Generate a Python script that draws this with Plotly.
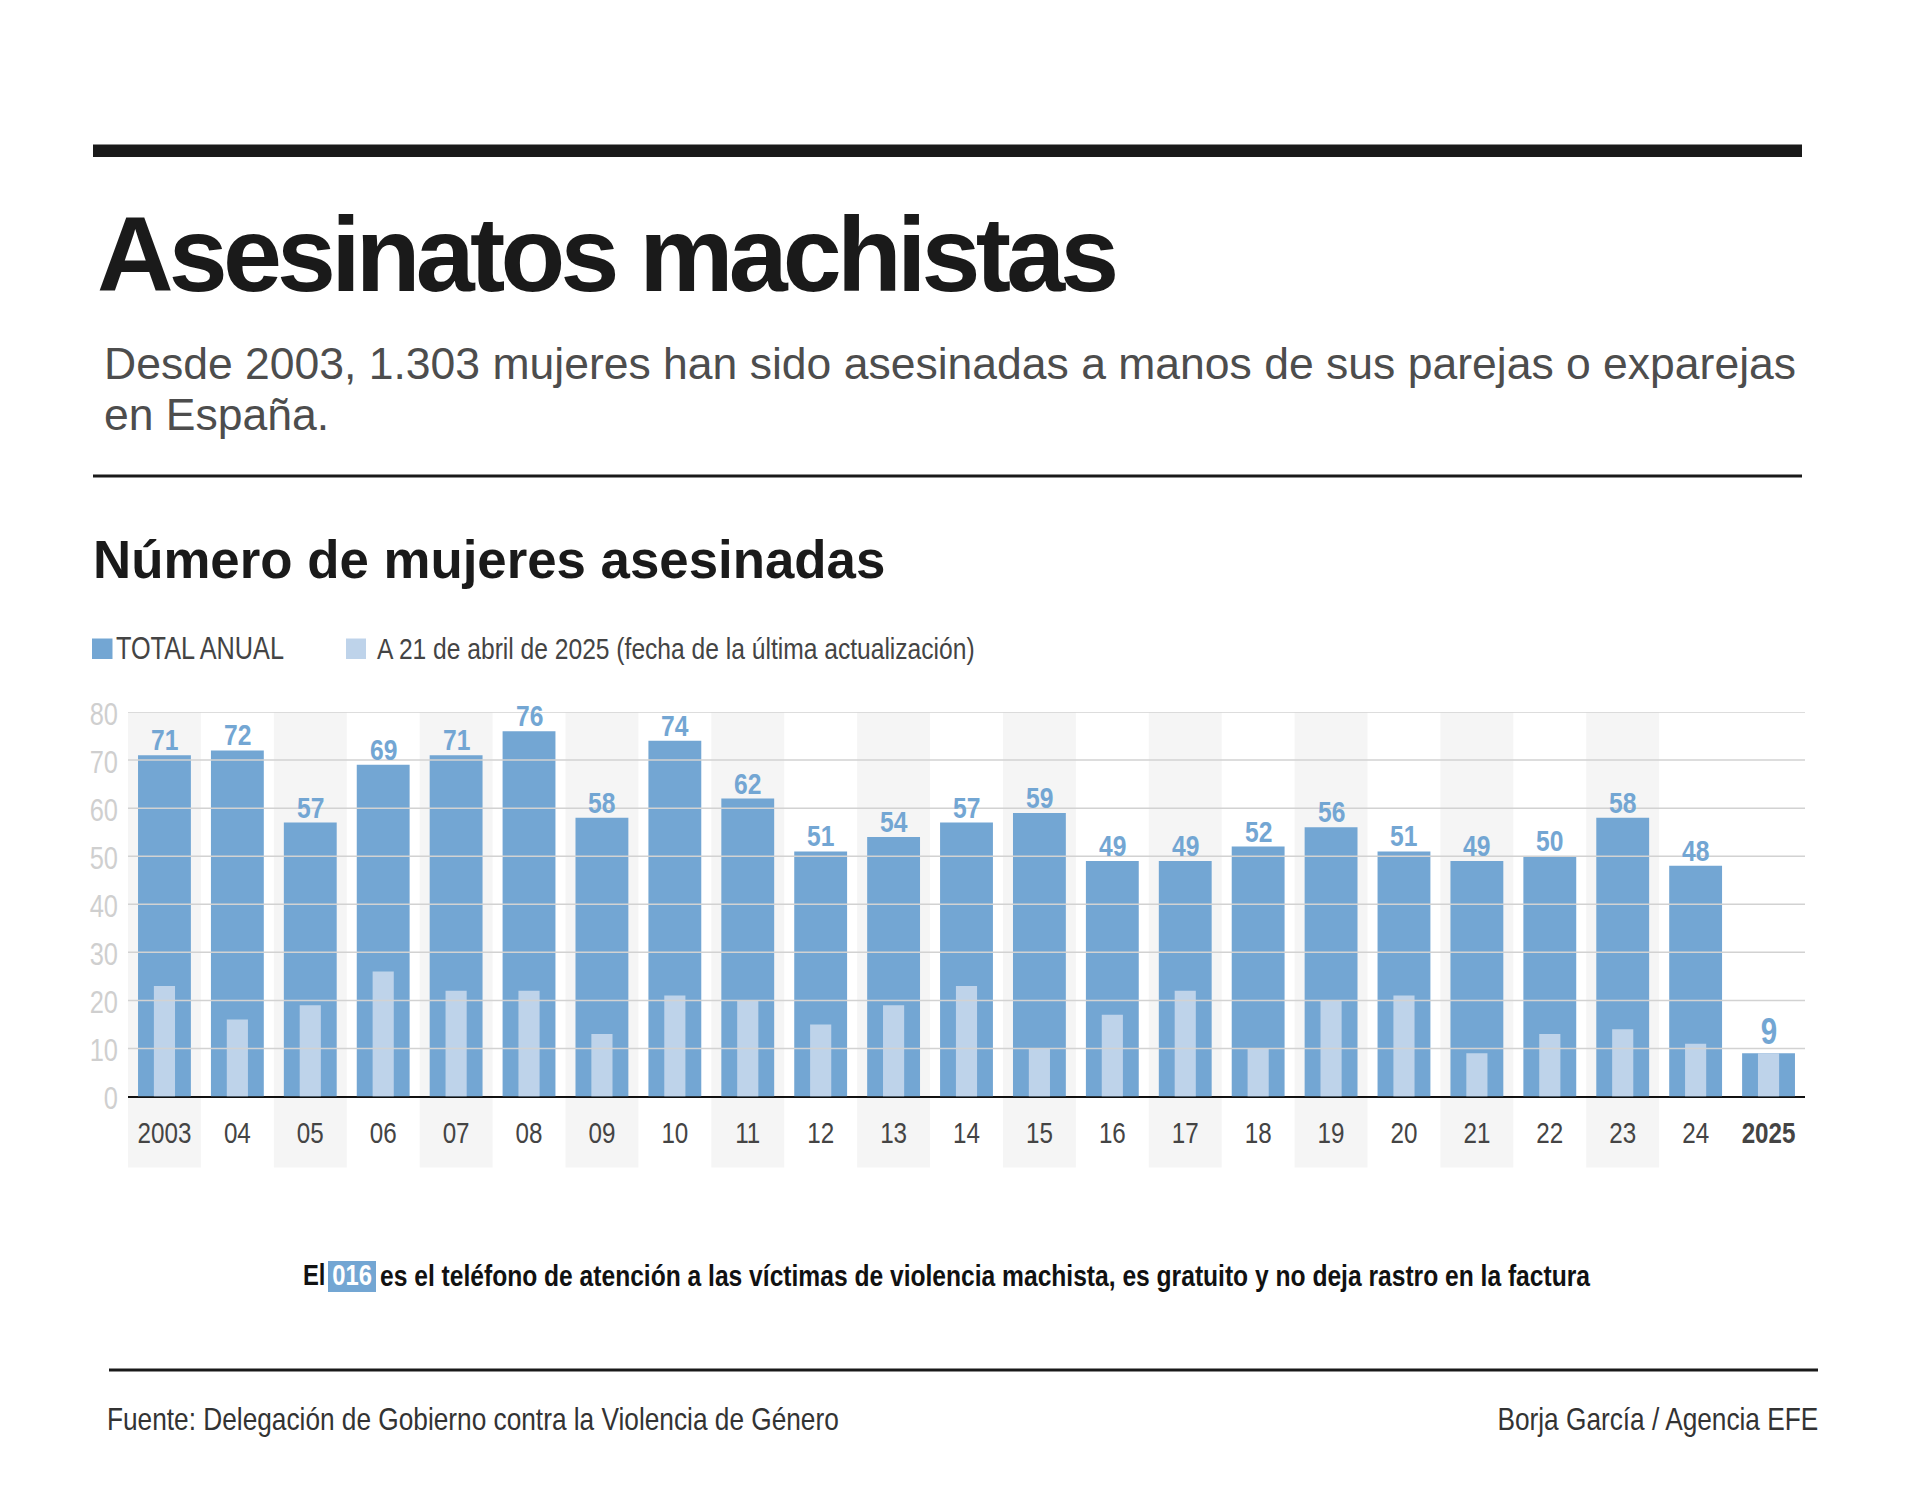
# Asesinatos machistas - bar chart recreated with plotly
import plotly.graph_objects as go

W, H = 1920, 1507

years = ["2003", "04", "05", "06", "07", "08", "09", "10", "11", "12", "13", "14",
         "15", "16", "17", "18", "19", "20", "21", "22", "23", "24", "<b>2025</b>"]
total_anual = [71, 72, 57, 69, 71, 76, 58, 74, 62, 51, 54, 57,
               59, 49, 49, 52, 56, 51, 49, 50, 58, 48, 9]
a_21_abril = [23, 16, 19, 26, 22, 22, 13, 21, 20, 15, 19, 23,
              10, 17, 22, 10, 20, 21, 9, 13, 14, 11, 9]
y_ticks = [0, 10, 20, 30, 40, 50, 60, 70, 80]

BLUE = "#73a6d3"
LIGHT = "#bed3ea"
BAND = "#f5f5f5"
GRID = "#d2d2d2"
DARK = "#1a1a1a"
TEXT = "#444444"
SANS = "Liberation Sans"
# no narrow font on the box, so the text tagged with this stack gets squeezed in post_script
NARROW = "Liberation Sans Narrow, Liberation Sans"

# plot area in pixels
PL, PR, PT, PB = 128, 1805, 712, 1096.5


def fx(px):
    return px / W


def fy(py):
    return 1 - py / H


def label(x, y, text, size, color=TEXT, family=NARROW, anchor="left", weight=400):
    return dict(x=fx(x), y=fy(y), xref="paper", yref="paper", text=text, showarrow=False,
                xanchor=anchor, yanchor="middle", align=anchor,
                borderpad=0, font=dict(family=family, size=size, color=color, weight=weight))


def box(x0, y0, x1, y1, color):
    return dict(type="rect", xref="paper", yref="paper", x0=fx(x0), x1=fx(x1), y0=fy(y0), y1=fy(y1),
                fillcolor=color, line_width=0, layer="above")


fig = go.Figure()

fig.add_trace(go.Bar(x=list(range(len(years))), y=total_anual, width=0.725, marker_color=BLUE, marker_line_width=0,
                     name="TOTAL ANUAL"))
fig.add_trace(go.Bar(x=list(range(len(years))), y=a_21_abril, width=0.29, marker_color=LIGHT, marker_line_width=0,
                     name="A 21 de abril de 2025"))

shapes = []
# alternate grey bands, they run down behind the year labels
for i in range(0, 21, 2):
    shapes.append(dict(type="rect", xref="x", yref="paper", x0=i - 0.5, x1=i + 0.5,
                       y0=fy(1167.5), y1=fy(PT), fillcolor=BAND, line_width=0, layer="below"))
# gridlines sit on top of the bars in the original
for t in y_ticks[1:]:
    shapes.append(dict(type="line", xref="x domain", yref="y", x0=0, x1=1, y0=t, y1=t,
                       line=dict(color=GRID, width=1.5), layer="above"))

# rules
shapes.append(box(93, 144.5, 1802, 157, DARK))
shapes.append(box(93, 474.5, 1802, 477.5, DARK))
shapes.append(box(109, 1368.5, 1818, 1371.5, DARK))
# legend swatches
shapes.append(box(92, 638.5, 112.5, 659, BLUE))
shapes.append(box(346, 638.5, 366, 659, LIGHT))
# box for the phone number
shapes.append(box(328, 1261, 376, 1292, BLUE))

annotations = [
    label(96, 254, "Asesinatos machistas", 106, DARK, SANS, weight=700),
    label(103, 364, "Desde 2003, 1.303 mujeres han sido asesinadas a manos de sus parejas o exparejas", 44.5, "#4d4d4d", SANS),
    label(103, 415, "en España.", 44.5, "#4d4d4d", SANS),
    label(92, 559, "Número de mujeres asesinadas", 52.8, DARK, SANS, weight=700),
    label(115, 648.5, "TOTAL ANUAL", 30.8, TEXT),
    label(376, 648.5, "A 21 de abril de 2025 (fecha de la última actualización)", 30, TEXT),
    label(326, 1275, "El", 29, "#111111", anchor="right", weight=700),
    label(352, 1275, "016", 29, "#ffffff", anchor="center", weight=700),
    label(379, 1275, "es el teléfono de atención a las víctimas de violencia machista, es gratuito y no deja rastro en la factura",
          30, "#111111", weight=700),
    label(106, 1419, "Fuente: Delegación de Gobierno contra la Violencia de Género", 32, "#333333"),
    label(1818.5, 1419, "Borja García / Agencia EFE", 32, "#333333", anchor="right"),
]

# value labels over the bars, the last one is bigger in the original
for i, v in enumerate(total_anual):
    last = i == len(total_anual) - 1
    annotations.append(dict(x=i, y=v, xref="x", yref="y", text=str(v), showarrow=False, yanchor="bottom",
                            yshift=0 if last else -2, borderpad=0,
                            font=dict(family=NARROW, size=36 if last else 30, color=BLUE, weight=700)))

fig.update_layout(
    width=W, height=H, barmode="overlay", showlegend=False,
    paper_bgcolor="white", plot_bgcolor="rgba(0,0,0,0)",
    margin=dict(l=0, r=0, t=0, b=0, autoexpand=False),
    shapes=shapes, annotations=annotations,
    xaxis=dict(domain=[fx(PL), fx(PR)], range=[-0.5, 22.5], tickmode="array",
               tickvals=list(range(len(years))), ticktext=years, ticks="", showgrid=False,
               showline=False, zeroline=False, ticklabelstandoff=16, automargin=False,
               tickfont=dict(family=NARROW, size=29.5, color=TEXT)),
    yaxis=dict(domain=[fy(PB), fy(PT)], range=[0, 80], tickmode="array", tickvals=y_ticks,
               showgrid=False, showline=False, zeroline=True, zerolinecolor="#111111", zerolinewidth=2,
               ticks="", ticklabelstandoff=9, ticklabelshift=2, automargin=False,
               tickfont=dict(family=NARROW, size=31, color="#cfcfcf")),
)

squeeze = """
document.body.style.margin = '0';
document.querySelectorAll('text').forEach(function (t) {
    if (t.style.fontFamily.indexOf('Narrow') >= 0) {
        t.setAttribute('textLength', t.getComputedTextLength() * 0.82);
        t.setAttribute('lengthAdjust', 'spacingAndGlyphs');
    }
    if (t.textContent === 'Asesinatos machistas') {
        t.style.letterSpacing = '-4.8px';
    }
});
"""

fig.write_html("out.html", config={"displayModeBar": False}, post_script=squeeze)
